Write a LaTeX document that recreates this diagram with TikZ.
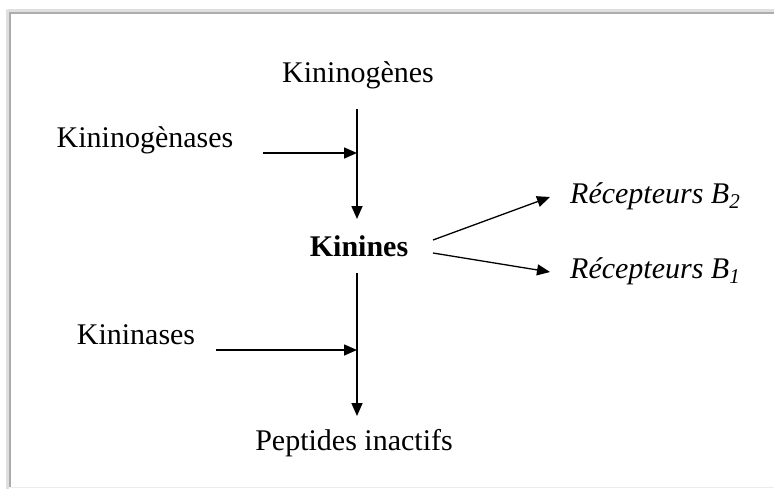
\documentclass[tikz,border=0pt]{standalone}
\usepackage{fontspec}
\setmainfont{Liberation Serif}
\usetikzlibrary{arrows.meta}
\begin{document}
\begin{tikzpicture}[x=1pt,y=-1pt,
  lbl/.style={font=\fontsize{30}{35}\selectfont, inner sep=0pt, anchor=base},
  flow/.style={line width=1.6pt, -{Triangle[length=13pt,width=11pt]}},
  plain/.style={line width=1.6pt}]
\useasboundingbox (0,0) rectangle (774,488);
% frame with a soft shadow
\fill[white] (0,0) rectangle (774,488);
\draw[gray!25, line width=3pt] (7,10) -- (7,490);
\draw[gray!25, line width=3pt] (7,10) -- (780,10);
\draw[gray!65, line width=1.4pt] (10,487) -- (10,13) -- (780,13);
\draw[gray!15, line width=1pt] (10,487) -- (780,487);

% labels
\node[lbl] (kgn) at (358,82) {Kininogènes};
\node[lbl] (kgnase) at (145,147) {Kininogènases};
\node[lbl, font=\fontsize{30}{35}\selectfont\bfseries] (kin) at (359,256) {Kinines};
\node[lbl] (kase) at (136,344) {Kininases};
\node[lbl] (pep) at (354,450) {Peptides inactifs};
\begin{scope}
\clip (560,150) rectangle (742,300);
\node[lbl, anchor=base west, font=\fontsize{30}{35}\selectfont\itshape] (rb2) at (570,203) {Récepteurs B\textsubscript{2}};
\node[lbl, anchor=base west, font=\fontsize{30}{35}\selectfont\itshape] (rb1) at (570,278) {Récepteurs B\textsubscript{1}};
\end{scope}

% connection points
\coordinate (v1top) at (357,109);
\coordinate (v1bot) at (357,219);
\coordinate (j1) at (357,153);
\coordinate (h1) at (263,153);
\coordinate (v2top) at (357,273);
\coordinate (v2bot) at (357,416);
\coordinate (j2) at (357,350);
\coordinate (h2) at (216,350);
\coordinate (kr) at (433,240);
\coordinate (kr2) at (433,253);
\coordinate (t2) at (550,197);
\coordinate (t1) at (550,272);

% connectors
\draw[flow] (v1top) -- (v1bot);
\draw[flow] (h1) -- (j1);
\draw[flow] (v2top) -- (v2bot);
\draw[flow] (h2) -- (j2);
\draw[flow, line width=1.3pt] (kr) -- (t2);
\draw[flow, line width=1.3pt] (kr2) -- (t1);
\end{tikzpicture}
\end{document}
